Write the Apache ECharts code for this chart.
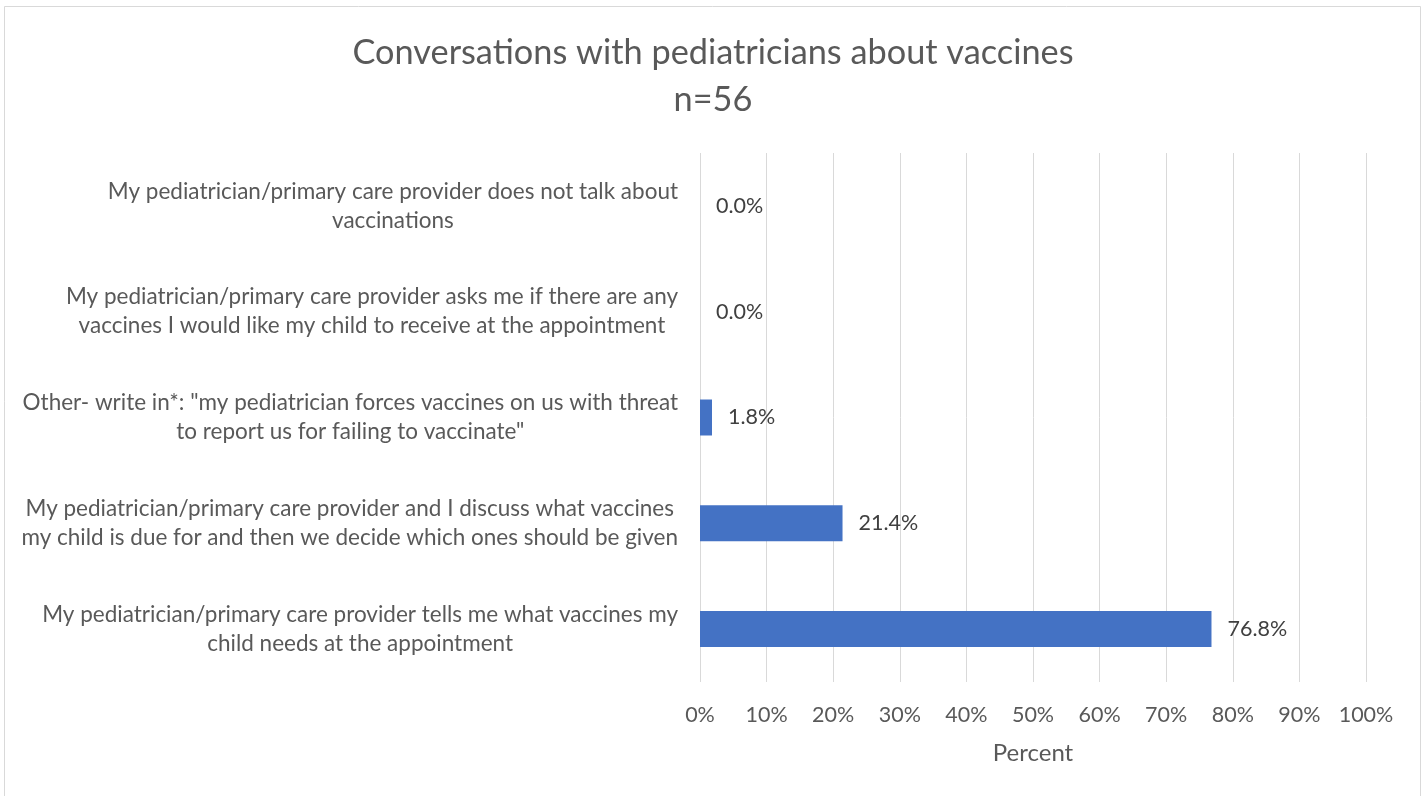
<!DOCTYPE html>
<html><head><meta charset="utf-8">
<script src="https://cdn.jsdelivr.net/npm/echarts@6/dist/echarts.min.js"></script>
<style>html,body{margin:0;padding:0;background:#fff}#c{width:1426px;height:796px}</style>
</head><body><div id="c"></div>
<script>
const categories = [
  "My pediatrician/primary care provider tells me what vaccines my\nchild needs at the appointment",
  "My pediatrician/primary care provider and I discuss what vaccines\nmy child is due for and then we decide which ones should be given",
  "Other- write in*: \"my pediatrician forces vaccines on us with threat\nto report us for failing to vaccinate\"",
  "My pediatrician/primary care provider asks me if there are any\nvaccines I would like my child to receive at the appointment",
  "My pediatrician/primary care provider does not talk about\nvaccinations"
];
const values = [76.8, 21.4, 1.8, 0.0, 0.0];
const titleText = "Conversations with pediatricians about vaccines";
const subtitleText = "n=56";
const axisName = "Percent";

const FONT = 'Lato';
const chart = echarts.init(document.getElementById('c'));
chart.setOption({
  backgroundColor: '#fff',
  animation: false,
  graphic: [{type:'rect', shape:{x:4.5,y:6.5,width:1416,height:800}, style:{fill:'none',stroke:'#d9d9d9',lineWidth:1}}],
  title: {
    text: titleText + '\n' + subtitleText,
    left: 'center', top: 24,
    textStyle: {fontFamily: FONT, fontSize: 34.3, fontWeight: 'normal', color: '#595959', lineHeight: 47}
  },
  grid: {left: 700, right: 60, top: 153, bottom: 114, containLabel: false},
  xAxis: {
    type: 'value', min: 0, max: 100, interval: 10,
    name: axisName, nameLocation: 'middle', nameGap: 59,
    nameTextStyle: {fontFamily: FONT, fontSize: 24, color: '#595959'},
    axisLine: {show: false}, axisTick: {show: false},
    axisLabel: {formatter: v => v + '%', fontFamily: FONT, fontSize: 21.5, color: '#595959', margin: 22},
    splitLine: {lineStyle: {color: '#d9d9d9', width: 1}}
  },
  yAxis: {
    type: 'category', data: categories,
    axisLine: {show: false}, axisTick: {show: false},
    axisLabel: {
      margin: 22, align: 'right',
      formatter: v => v.split('\n').map(l => '{c|' + l + '}').join('\n'),
      rich: {c: {align: 'center', fontFamily: FONT, fontSize: 22.5, color: '#595959', lineHeight: 29}}
    }
  },
  series: [{
    type: 'bar', data: values, barWidth: 36,
    itemStyle: {color: '#4472c4'},
    label: {show: true, position: 'right', distance: 16, formatter: p => p.value.toFixed(1) + '%',
      fontFamily: FONT, fontSize: 21.5, color: '#404040'}
  }]
});
</script></body></html>
